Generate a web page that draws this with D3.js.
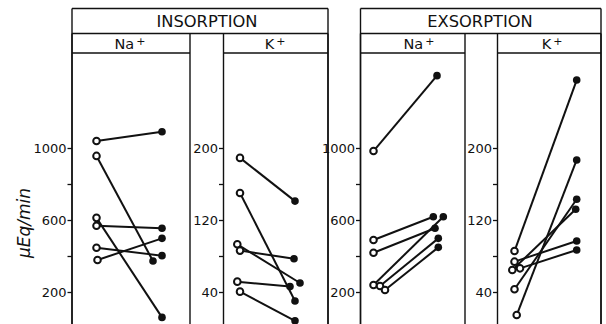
<!DOCTYPE html>
<html>
<head>
<meta charset="utf-8">
<script src="https://cdn.jsdelivr.net/npm/d3@7/dist/d3.min.js"></script>
<style>
  html, body { margin: 0; padding: 0; background: #fff; }
  svg { display: block; }
  text { font-family: "DejaVu Sans", sans-serif; fill: #111; }
</style>
</head>
<body>
<svg id="chart" width="606" height="324"></svg>
<script>
// ---------------- DATA (µEq/min) ----------------
const groupTitles = ["INSORPTION", "EXSORPTION"];
const ionLabels = ["Na", "K"];
const naTicksMajor = [200, 600, 1000];
const naTicksMinor = [400, 800];
const kTicksMajor = [40, 120, 200];
const kTicksMinor = [80, 160];
const yAxisTitle = "\u03BCEq/min";

// Insorption Na+
const naInBefore = [1039, 956, 612, 568, 446, 378];
const naInAfter  = [1090, 372, 59, 554, 402, 498];
// Insorption K+
const kInBefore = [189, 150, 93, 86, 51.5, 40.4];
const kInAfter  = [141, 30, 50, 77, 46, 8];
// Exsorption Na+
const naExBefore = [983, 489, 418, 239, 233, 211];
const naExAfter  = [1402, 618, 554, 618, 498, 448];
// Exsorption K+
const kExBefore = [85.5, 14.4, 43, 64.4, 73.7, 66.3];
const kExAfter  = [275.5, 186.7, 143, 132, 96.7, 86.7];

// ---------------- LAYOUT ----------------
const H = 324;
const yTop = 8.5, yHead = 33.5, ySub = 53;
const groups = [
  { title: groupTitles[0], x0: 72, x1: 328, tx: 207 },
  { title: groupTitles[1], x0: 360.5, x1: 601, tx: 480 }
];
const panels = [
  { ion: ionLabels[0], ticks: "na", left: 72, right: 190, xb: 96.5, xa: 162, labelX: 130,
    before: naInBefore, after: naInAfter,
    dxB: [0, 0, 0, 0, 0, 1], dxA: [0, -9, 0, 0, 0, 0] },
  { ion: ionLabels[1], ticks: "k", left: 223.5, right: 328, xb: 240, xa: 295, labelX: 275,
    before: kInBefore, after: kInAfter,
    dxB: [0, 0, -2.7, 0, -2.7, 0], dxA: [0, 0, 5, -1, -5, 0] },
  { ion: ionLabels[0], ticks: "na", left: 360.5, right: 465, xb: 373.5, xa: 437, labelX: 419,
    before: naExBefore, after: naExAfter,
    dxB: [0, 0, 0, 0, 6.5, 11.5], dxA: [0, -3.7, -2, 6.3, 1.3, 1.3] },
  { ion: ionLabels[1], ticks: "k", left: 497.5, right: 601, xb: 514.5, xa: 576.7, labelX: 552,
    before: kExBefore, after: kExAfter,
    dxB: [0, 2.2, 0, -2.2, 0, 5.5], dxA: [0, 0, 0, -1, 0, 0] }
];

const yNa = d3.scaleLinear().domain([200, 1000]).range([292, 148]);
const yK  = d3.scaleLinear().domain([40, 200]).range([292, 148]);

const svg = d3.select("#chart");
const ink = "#111";

// ---------------- FRAMES ----------------
const frame = svg.append("g").attr("stroke", ink).attr("stroke-width", 1.4).attr("fill", "none");
groups.forEach(g => {
  frame.append("line").attr("x1", g.x0).attr("x2", g.x1).attr("y1", yTop).attr("y2", yTop);
  frame.append("line").attr("x1", g.x0).attr("x2", g.x1).attr("y1", yHead).attr("y2", yHead);
  frame.append("line").attr("x1", g.x0).attr("x2", g.x0).attr("y1", yTop).attr("y2", H);
  frame.append("line").attr("x1", g.x1).attr("x2", g.x1).attr("y1", yTop).attr("y2", H);
  svg.append("text").attr("x", g.tx).attr("y", 26.8).attr("text-anchor", "middle")
    .attr("font-size", 16.3).text(g.title);
});
panels.forEach(p => {
  frame.append("line").attr("x1", p.left).attr("x2", p.right).attr("y1", ySub).attr("y2", ySub);
  frame.append("line").attr("x1", p.left).attr("x2", p.left).attr("y1", yHead).attr("y2", H);
  frame.append("line").attr("x1", p.right).attr("x2", p.right).attr("y1", yHead).attr("y2", H);
  const t = svg.append("text").attr("x", p.labelX).attr("y", 48.5).attr("text-anchor", "middle")
    .attr("font-size", 14.5);
  t.append("tspan").text(p.ion);
  t.append("tspan").attr("font-size", 11).attr("dx", 2).attr("dy", -3.5).text("+");
});

// ---------------- AXES ----------------
panels.forEach(p => {
  const y = p.ticks === "na" ? yNa : yK;
  const major = p.ticks === "na" ? naTicksMajor : kTicksMajor;
  const minor = p.ticks === "na" ? naTicksMinor : kTicksMinor;
  const ax = d3.axisLeft(y).tickValues(major).tickSize(4.5).tickPadding(1).tickFormat(d3.format("d"));
  const ga = svg.append("g").attr("transform", `translate(${p.left},0)`).call(ax);
  ga.select(".domain").remove();
  ga.selectAll("line").attr("stroke", ink).attr("stroke-width", 1.3);
  ga.selectAll("text").attr("font-size", 13).attr("font-family", "DejaVu Sans, sans-serif").attr("fill", ink);
  const am = d3.axisLeft(y).tickValues(minor).tickSize(4.5).tickFormat("");
  const gm = svg.append("g").attr("transform", `translate(${p.left},0)`).call(am);
  gm.select(".domain").remove();
  gm.selectAll("line").attr("stroke", ink).attr("stroke-width", 1.3);
});

svg.append("text")
  .attr("transform", "translate(30,223) rotate(-90)")
  .attr("text-anchor", "middle")
  .attr("font-size", 17)
  .attr("font-style", "italic")
  .text(yAxisTitle);

// ---------------- MARKS ----------------
panels.forEach(p => {
  const y = p.ticks === "na" ? yNa : yK;
  const x = d3.scaleLinear().domain([0, 1]).range([p.xb, p.xa]);
  const pairs = p.before.map((b, i) => ({
    x0: x(0) + p.dxB[i], y0: y(b), x1: x(1) + p.dxA[i], y1: y(p.after[i])
  }));
  const g = svg.append("g");
  g.selectAll("line.pair").data(pairs).join("line")
    .attr("x1", d => d.x0).attr("y1", d => d.y0)
    .attr("x2", d => d.x1).attr("y2", d => d.y1)
    .attr("stroke", ink).attr("stroke-width", 2);
  g.selectAll("circle.after").data(pairs).join("circle")
    .attr("cx", d => d.x1).attr("cy", d => d.y1).attr("r", 3.8).attr("fill", ink);
  g.selectAll("circle.before").data(pairs).enter().append("circle")
    .attr("cx", d => d.x0).attr("cy", d => d.y0).attr("r", 3.3)
    .attr("fill", "#fff").attr("stroke", ink).attr("stroke-width", 2);
});
</script>
</body>
</html>
